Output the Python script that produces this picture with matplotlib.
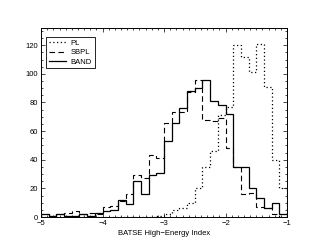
import numpy as np
import matplotlib
matplotlib.use('Agg')
import matplotlib.pyplot as plt
from matplotlib.ticker import MultipleLocator

plt.rcParams['font.family'] = ['Liberation Sans', 'DejaVu Sans']

# 32 bins of width 0.125 between -5 and -1
edges = np.linspace(-5, -1, 33)

pl = [0, 0, 0, 0, 0, 0, 0, 0, 0, 0, 0, 0, 0, 0, 0, 1,
      2, 5, 6, 10, 20, 35, 46, 71, 77, 120, 112, 101, 121, 91, 40, 20]
sbpl = [2, 1, 2, 3, 4, 2, 3, 2, 7, 8, 11, 16, 29, 27, 43, 41,
        66, 73, 73, 87, 96, 68, 67, 69, 48, 35, 16, 17, 7, 6, 2, 0]
band = [2, 1, 2, 1, 1, 2, 1, 3, 4, 5, 12, 9, 25, 16, 29, 31,
        53, 66, 76, 88, 90, 96, 81, 78, 72, 35, 35, 20, 13, 6, 10, 2]

fig = plt.figure(figsize=(3.11, 2.49), dpi=100)
ax = fig.add_axes([0.132, 0.1285, 0.791, 0.759])

ax.stairs(pl, edges, color='black', lw=0.9, linestyle=(0, (1, 2)), label='PL')
ax.stairs(sbpl, edges, color='black', lw=0.8, linestyle=(0, (5, 3)), label='SBPL')
ax.stairs(band, edges, color='black', lw=0.9, label='BAND')

ax.set_xlim(-5, -1)
ax.set_ylim(0, 132)
ax.xaxis.set_major_locator(MultipleLocator(1))
ax.xaxis.set_minor_locator(MultipleLocator(0.1))
ax.yaxis.set_major_locator(MultipleLocator(20))
ax.yaxis.set_minor_locator(MultipleLocator(5))
ax.tick_params(which='both', direction='in', top=True, right=True, width=0.5,
               labelsize=5.5)
ax.tick_params(which='major', length=3, pad=2)
ax.tick_params(which='minor', length=1.5)
for s in ax.spines.values():
    s.set_linewidth(0.7)

ax.set_xlabel('BATSE High\u2212Energy Index', fontsize=5.5, labelpad=2)

leg = ax.legend(loc='upper left', bbox_to_anchor=(0.02, 0.955), fontsize=5.5,
                fancybox=False, edgecolor='black', framealpha=1,
                handlelength=2.3, borderaxespad=0.0, labelspacing=0.3,
                handletextpad=0.6, borderpad=0.35)
leg.get_frame().set_linewidth(0.6)

fig.savefig('out.png', dpi=100)
